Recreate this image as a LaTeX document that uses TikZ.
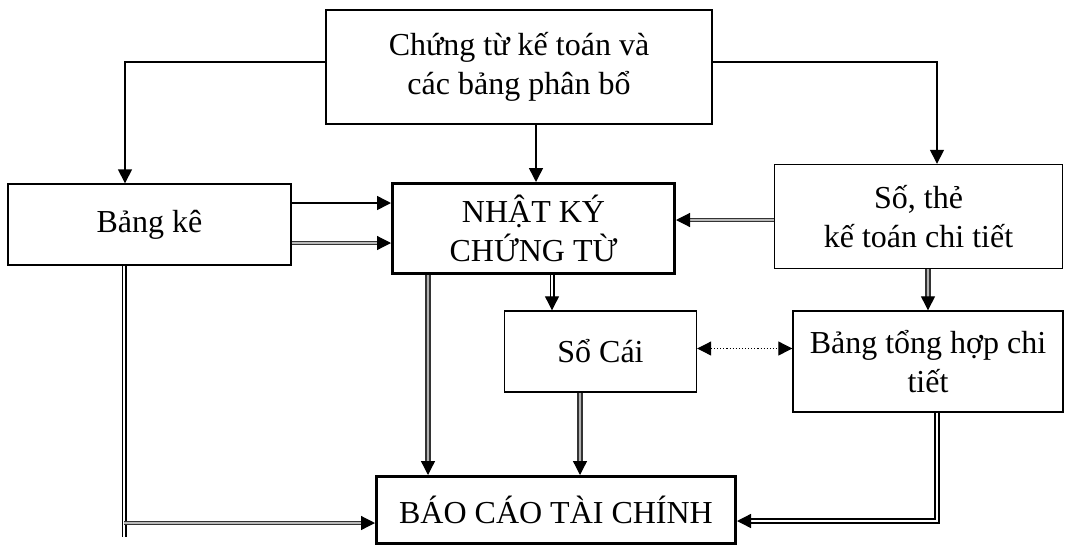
\documentclass[tikz,border=0pt]{standalone}
\usepackage{fontspec}
\setmainfont{Liberation Serif}
\usetikzlibrary{arrows.meta}
\begin{document}
\begin{tikzpicture}[x=1pt,y=-1pt,
  every node/.style={font=\fontsize{32}{39}\selectfont, align=center, inner sep=0pt},
  box/.style={draw, line width=1.4pt},
  bigbox/.style={draw, line width=3pt},
  tip/.style={-{Triangle[length=14pt,width=14pt,color=black]}},
  thin/.style={line width=1.5pt},
  arr/.style={thin, tip},
  dblw/.style={draw=black, double=white, double distance=2.8pt, line width=1.1pt},
  dblg/.style={draw=black!80, double=gray!55, double distance=2.4pt, line width=1.2pt},
  dbldk/.style={draw=gray!40!black, double=gray!60, double distance=2.6pt, line width=1.3pt},
  dots/.style={line width=1.1pt, dotted, {Triangle[length=14pt,width=14pt]}-{Triangle[length=14pt,width=14pt]}}
]
\useasboundingbox (0,0) rectangle (1070,547);

% boxes
\node[box, minimum width=386pt, minimum height=114pt] (top) at (519,67)
  {Chứng từ kế toán và\\các bảng phân bổ};
\node[box, minimum width=283pt, minimum height=81pt] (bangke) at (149.5,224.5) {Bảng kê};
\node[bigbox, minimum width=282pt, minimum height=90pt] (nhatky) at (533.5,228.5)
  {NHẬT KÝ\\CHỨNG TỪ};
\node[box, minimum width=288pt, minimum height=104pt] (sothe) at (918.5,216.5)
  {Số, thẻ\\kế toán chi tiết};
\node[box, minimum width=192pt, minimum height=81pt] (socai) at (600.5,351.5) {Sổ Cái};
\node[box, minimum width=270pt, minimum height=101pt] (tonghop) at (928,361.5)
  {Bảng tổng hợp chi\\tiết};
\node[bigbox, minimum width=359pt, minimum height=67pt] (baocao) at (556,510)
  {BÁO CÁO TÀI CHÍNH};

% from the source documents
\draw[arr] ([yshift=5pt]top.west) -| ([xshift=-24.5pt]bangke.north);
\draw[arr] ([yshift=5pt]top.east) -| ([xshift=18.5pt]sothe.north);
\draw[arr] ([xshift=17pt]top.south) coordinate (t1) -- (t1 |- nhatky.north);

% into the journal
\draw[arr] ([yshift=21.5pt]bangke.east) coordinate (b1) -- (b1 -| nhatky.west);
\draw[dblg, tip] ([yshift=-18.5pt]bangke.east) coordinate (b2) -- (b2 -| nhatky.west);
\draw[dblg, tip] ([yshift=-3.5pt]sothe.west) coordinate (s1) -- (s1 -| nhatky.east);

% ledgers
\draw[dblw, tip] ([xshift=18.5pt]nhatky.south) coordinate (n1) -- (n1 |- socai.north);
\draw[dbldk, tip] ([xshift=9.5pt]sothe.south) coordinate (s2) -- (s2 |- tonghop.north);
\draw[dots] ([yshift=3pt]socai.east) coordinate (c1) -- (c1 -| tonghop.west);

% into the financial report
\draw[dbldk, tip] ([xshift=-105.5pt]nhatky.south) coordinate (n2) -- (n2 |- baocao.north);
\draw[dbldk, tip] ([xshift=-20.5pt]socai.south) coordinate (c2) -- (c2 |- baocao.north);
\coordinate (kend) at (124,537);
\draw[dblw] (bangke.south -| kend) -- (kend);
\draw[dblg, tip] ([yshift=-13pt]baocao.west) coordinate (r1) (kend |- r1) -- (r1);
\draw[dblw, line width=1.4pt, tip] ([xshift=9pt]tonghop.south) |- ([yshift=-11pt]baocao.east);
\end{tikzpicture}
\end{document}
